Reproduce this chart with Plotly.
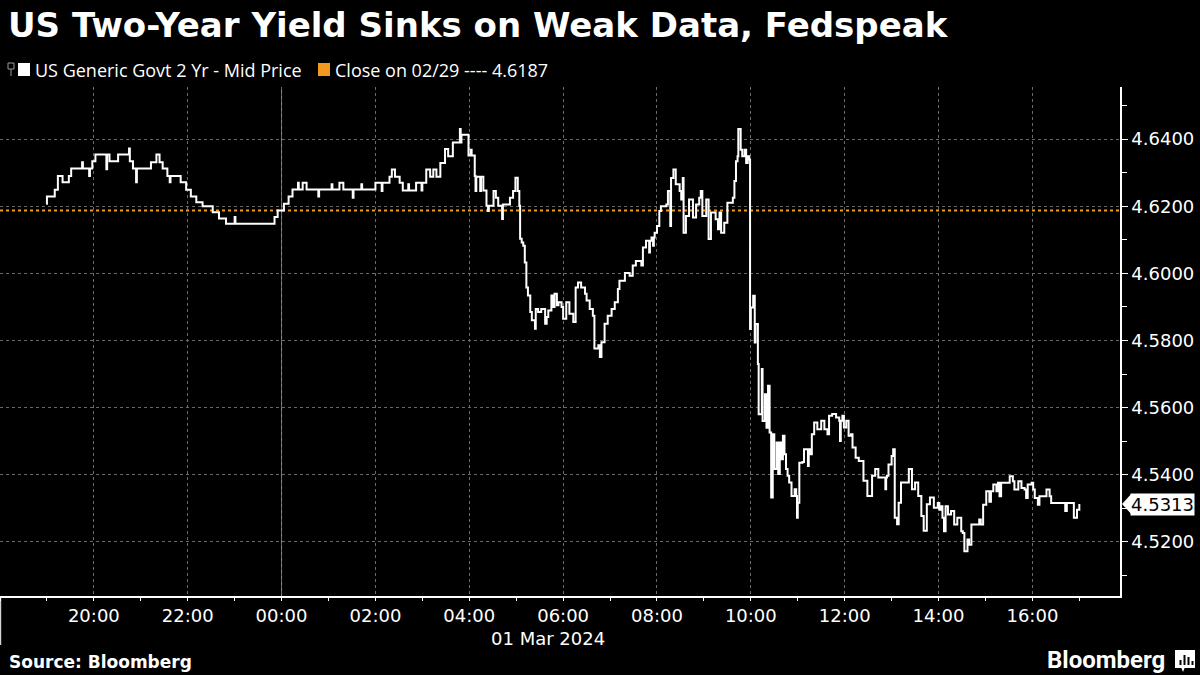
import plotly.graph_objects as go

TITLE = "US Two-Year Yield Sinks on Weak Data, Fedspeak"
SERIES_NAME = "US Generic Govt 2 Yr - Mid Price"
CLOSE_LABEL = "Close on 02/29 ---- 4.6187"
PREV_CLOSE = 4.6187
LAST_VALUE = 4.5313
DATE_LABEL = "01 Mar 2024"
SOURCE = "Source: Bloomberg"

times = [
    "18:59", "19:00", "19:10", "19:14", "19:20", "19:28", "19:31", "19:45", "19:46", "19:54",
    "19:55", "19:58", "20:02", "20:16", "20:17", "20:20", "20:31", "20:45", "20:46", "20:50",
    "20:54", "20:55", "21:13", "21:20", "21:24", "21:28", "21:34", "21:37", "21:38", "21:51",
    "21:58", "22:04", "22:11", "22:19", "22:32", "22:40", "22:49", "23:00", "23:01", "23:51",
    "23:55", "00:03", "00:09", "00:14", "00:21", "00:22", "00:27", "00:32", "00:47", "00:48",
    "01:04", "01:05", "01:14", "01:19", "01:31", "01:32", "01:42", "01:43", "02:00", "02:08",
    "02:09", "02:18", "02:21", "02:25", "02:31", "02:35", "02:42", "02:43", "02:52", "02:59",
    "03:00", "03:05", "03:10", "03:14", "03:18", "03:23", "03:29", "03:33", "03:39", "03:48",
    "03:49", "03:50", "03:59", "04:02", "04:03", "04:07", "04:08", "04:09", "04:14", "04:15",
    "04:18", "04:22", "04:24", "04:25", "04:31", "04:34", "04:37", "04:42", "04:43", "04:52",
    "04:56", "04:59", "05:02", "05:04", "05:05", "05:07", "05:09", "05:11", "05:13", "05:15",
    "05:18", "05:20", "05:24", "05:25", "05:28", "05:32", "05:37", "05:39", "05:41", "05:45",
    "05:47", "05:49", "05:52", "05:54", "05:58", "06:00", "06:04", "06:08", "06:13", "06:16",
    "06:19", "06:23", "06:28", "06:30", "06:34", "06:38", "06:40", "06:45", "06:47", "06:49",
    "06:53", "06:57", "07:02", "07:06", "07:10", "07:12", "07:19", "07:25", "07:29", "07:33",
    "07:40", "07:42", "07:46", "07:50", "07:51", "07:53", "07:55", "07:56", "07:57", "08:00",
    "08:03", "08:05", "08:12", "08:14", "08:17", "08:18", "08:21", "08:24", "08:29", "08:31",
    "08:33", "08:34", "08:37", "08:41", "08:46", "08:50", "08:54", "08:56", "08:58", "09:03",
    "09:06", "09:09", "09:15", "09:18", "09:20", "09:22", "09:26", "09:30", "09:37", "09:39",
    "09:41", "09:43", "09:44", "09:47", "09:49", "09:52", "09:54", "09:56", "09:58", "09:59",
    "10:00", "10:03", "10:05", "10:06", "10:09", "10:10", "10:14", "10:15", "10:18", "10:20",
    "10:22", "10:24", "10:26", "10:28", "10:30", "10:33", "10:35", "10:37", "10:39", "10:41",
    "10:43", "10:45", "10:47", "10:49", "10:52", "10:56", "10:58", "10:59", "11:00", "11:02",
    "11:06", "11:08", "11:13", "11:14", "11:16", "11:18", "11:21", "11:25", "11:30", "11:34",
    "11:38", "11:40", "11:44", "11:49", "11:53", "11:54", "11:55", "11:57", "11:59", "12:02",
    "12:05", "12:08", "12:10", "12:14", "12:18", "12:24", "12:29", "12:35", "12:39", "12:43",
    "12:52", "12:53", "12:54", "12:56", "13:00", "13:02", "13:04", "13:07", "13:09", "13:12",
    "13:22", "13:26", "13:30", "13:34", "13:38", "13:41", "13:45", "13:49", "13:54", "13:59",
    "14:01", "14:03", "14:05", "14:07", "14:09", "14:12", "14:16", "14:20", "14:24", "14:29",
    "14:31", "14:33", "14:37", "14:39", "14:42", "14:52", "14:54", "14:57", "15:01", "15:05",
    "15:07", "15:10", "15:14", "15:16", "15:18", "15:20", "15:31", "15:35", "15:37", "15:42",
    "15:46", "15:50", "15:52", "15:54", "15:59", "16:01", "16:03", "16:07", "16:09", "16:18",
    "16:22", "16:24", "16:42", "16:44", "16:53", "16:57", "17:00",
]

yields = [
    4.6207, 4.6229, 4.6249, 4.6290, 4.6271, 4.6290, 4.6312, 4.6331, 4.6312, 4.6290,
    4.6312, 4.6334, 4.6354, 4.6310, 4.6354, 4.6334, 4.6354, 4.6372, 4.6334, 4.6312,
    4.6271, 4.6312, 4.6331, 4.6354, 4.6331, 4.6312, 4.6290, 4.6271, 4.6290, 4.6271,
    4.6249, 4.6229, 4.6212, 4.6200, 4.6182, 4.6163, 4.6148, 4.6168, 4.6148, 4.6168,
    4.6187, 4.6207, 4.6229, 4.6250, 4.6270, 4.6250, 4.6270, 4.6250, 4.6229, 4.6250,
    4.6265, 4.6250, 4.6270, 4.6250, 4.6225, 4.6250, 4.6265, 4.6250, 4.6270, 4.6245,
    4.6270, 4.6288, 4.6309, 4.6288, 4.6270, 4.6247, 4.6265, 4.6247, 4.6270, 4.6247,
    4.6270, 4.6309, 4.6288, 4.6309, 4.6288, 4.6329, 4.6370, 4.6349, 4.6390, 4.6430,
    4.6390, 4.6413, 4.6351, 4.6368, 4.6351, 4.6290, 4.6245, 4.6288, 4.6245, 4.6288,
    4.6247, 4.6201, 4.6186, 4.6201, 4.6245, 4.6225, 4.6201, 4.6162, 4.6205, 4.6225,
    4.6245, 4.6285, 4.6245, 4.6201, 4.6103, 4.6092, 4.6082, 4.6032, 4.5958, 4.5934,
    4.5885, 4.5860, 4.5835, 4.5894, 4.5885, 4.5894, 4.5850, 4.5870, 4.5889, 4.5934,
    4.5900, 4.5939, 4.5905, 4.5914, 4.5900, 4.5865, 4.5914, 4.5880, 4.5855, 4.5958,
    4.5973, 4.5958, 4.5939, 4.5919, 4.5894, 4.5874, 4.5776, 4.5786, 4.5751, 4.5795,
    4.5850, 4.5874, 4.5894, 4.5914, 4.5953, 4.5978, 4.6001, 4.5993, 4.6023, 4.6037,
    4.6023, 4.6077, 4.6097, 4.6062, 4.6097, 4.6107, 4.6082, 4.6107, 4.6121, 4.6141,
    4.6186, 4.6200, 4.6205, 4.6245, 4.6141, 4.6284, 4.6309, 4.6265, 4.6245, 4.6220,
    4.6284, 4.6121, 4.6171, 4.6220, 4.6166, 4.6205, 4.6225, 4.6245, 4.6171, 4.6220,
    4.6102, 4.6181, 4.6161, 4.6131, 4.6181, 4.6121, 4.6151, 4.6210, 4.6225, 4.6275,
    4.6334, 4.6349, 4.6430, 4.6368, 4.6349, 4.6368, 4.6329, 4.6349, 4.6339, 4.5834,
    4.5898, 4.5933, 4.5794, 4.5849, 4.5730, 4.5580, 4.5715, 4.5560, 4.5640, 4.5540,
    4.5665, 4.5526, 4.5332, 4.5521, 4.5417, 4.5496, 4.5402, 4.5496, 4.5446, 4.5516,
    4.5461, 4.5417, 4.5397, 4.5377, 4.5337, 4.5357, 4.5337, 4.5272, 4.5317, 4.5436,
    4.5438, 4.5476, 4.5426, 4.5476, 4.5461, 4.5521, 4.5556, 4.5536, 4.5561, 4.5536,
    4.5521, 4.5576, 4.5581, 4.5571, 4.5561, 4.5501, 4.5561, 4.5576, 4.5541, 4.5561,
    4.5516, 4.5521, 4.5481, 4.5451, 4.5441, 4.5382, 4.5337, 4.5397, 4.5417, 4.5392,
    4.5357, 4.5392, 4.5397, 4.5431, 4.5456, 4.5476, 4.5272, 4.5253, 4.5317, 4.5377,
    4.5417, 4.5357, 4.5377, 4.5337, 4.5277, 4.5233, 4.5312, 4.5332, 4.5302, 4.5316,
    4.5296, 4.5306, 4.5272, 4.5232, 4.5306, 4.5282, 4.5292, 4.5252, 4.5272, 4.5232,
    4.5227, 4.5172, 4.5207, 4.5192, 4.5252, 4.5267, 4.5252, 4.5311, 4.5351, 4.5320,
    4.5351, 4.5371, 4.5351, 4.5376, 4.5336, 4.5376, 4.5396, 4.5381, 4.5356, 4.5381,
    4.5361, 4.5356, 4.5331, 4.5371, 4.5376, 4.5356, 4.5331, 4.5311, 4.5336, 4.5356,
    4.5336, 4.5316, 4.5292, 4.5316, 4.5272, 4.5296, 4.5313,
]

x_tick_values = ["2024-02-29 20:00", "2024-02-29 22:00", "2024-03-01 00:00", "2024-03-01 02:00",
                 "2024-03-01 04:00", "2024-03-01 06:00", "2024-03-01 08:00", "2024-03-01 10:00",
                 "2024-03-01 12:00", "2024-03-01 14:00", "2024-03-01 16:00"]
y_tick_values = [4.52, 4.54, 4.56, 4.58, 4.60, 4.62, 4.64]


def stamp(hm):
    day = "2024-02-29" if int(hm[:2]) >= 18 else "2024-03-01"
    return f"{day} {hm}"


x_vals = [stamp(t) for t in times]

# plot area geometry (pixels)
W, H = 1200, 675
L, R, T, B = 0, 80, 87, 79
PW, PH = W - L - R, H - T - B


def px(xp):
    return (xp - L) / PW


def py(yp):
    return (H - B - yp) / PH


AX_FONT = "DejaVu Sans"
WHITE = "#ffffff"
ORANGE = "#f39a1e"
GRID = "#6a6a6a"

fig = go.Figure()
fig.add_trace(go.Scatter(
    x=x_vals, y=yields, mode="lines", line=dict(color=WHITE, width=2, shape="hv"),
    name=SERIES_NAME, showlegend=False, hoverinfo="x+y",
))

shapes = [
    # previous close line
    dict(type="line", xref="paper", yref="y", x0=0, x1=1, y0=PREV_CLOSE, y1=PREV_CLOSE,
         line=dict(color=ORANGE, width=2, dash="dot"), layer="below"),
    # day separator
    dict(type="line", xref="x", yref="paper", x0="2024-03-01 00:00", x1="2024-03-01 00:00",
         y0=0, y1=1, line=dict(color="#8c8c8c", width=1), layer="below"),
    # left edge tick going into date row
    dict(type="line", xref="paper", yref="paper", x0=0.0006, x1=0.0006, y0=0, y1=py(645),
         line=dict(color=WHITE, width=1)),
    # legend squares
    dict(type="rect", xref="paper", yref="paper", x0=px(18), x1=px(30), y0=py(76), y1=py(63),
         fillcolor=WHITE, line=dict(width=0)),
    dict(type="rect", xref="paper", yref="paper", x0=px(318), x1=px(330), y0=py(76), y1=py(63),
         fillcolor=ORANGE, line=dict(width=0)),
    # tiny collapse icon
    dict(type="rect", xref="paper", yref="paper", x0=px(8), x1=px(14), y0=py(69), y1=py(63),
         fillcolor="rgba(0,0,0,0)", line=dict(color="#9a9a9a", width=1)),
    dict(type="line", xref="paper", yref="paper", x0=px(11), x1=px(11), y0=py(76), y1=py(69),
         line=dict(color="#9a9a9a", width=1)),
    # last value pointer
    dict(type="path", xref="paper", yref="y",
         path=f"M {px(1122)} {LAST_VALUE} L {px(1131)} {LAST_VALUE + 0.0029} "
              f"L {px(1131)} {LAST_VALUE - 0.0029} Z",
         fillcolor=WHITE, line=dict(width=0)),
    # bloomberg icon
    dict(type="rect", xref="paper", yref="paper", x0=px(1175), x1=px(1195), y0=py(668), y1=py(650),
         fillcolor=WHITE, line=dict(width=0)),
    dict(type="path", xref="paper", yref="paper",
         path=f"M {px(1181)} {py(667)} L {px(1185)} {py(667)} L {px(1183)} {py(672)} Z",
         fillcolor=WHITE, line=dict(width=0)),
]
for bx, top in [(1179.5, 660), (1183.5, 655), (1187.5, 657), (1191.5, 661)]:
    shapes.append(dict(type="rect", xref="paper", yref="paper", x0=px(bx), x1=px(bx + 2),
                       y0=py(665), y1=py(top), fillcolor="#000000", line=dict(width=0)))

annotations = [
    dict(text=f"<b>{TITLE}</b>", xref="paper", yref="paper", x=px(6), y=py(25),
         xanchor="left", yanchor="middle", showarrow=False,
         font=dict(family="DejaVu Sans", size=34, color=WHITE)),
    dict(text=SERIES_NAME, xref="paper", yref="paper", x=px(33), y=py(70),
         xanchor="left", yanchor="middle", showarrow=False,
         font=dict(family="Open Sans", size=18, color=WHITE)),
    dict(text=CLOSE_LABEL, xref="paper", yref="paper", x=px(333), y=py(70),
         xanchor="left", yanchor="middle", showarrow=False,
         font=dict(family="Open Sans", size=18, color=WHITE)),
    dict(text=DATE_LABEL, xref="paper", yref="paper", x=px(548), y=py(638),
         xanchor="center", yanchor="middle", showarrow=False,
         font=dict(family=AX_FONT, size=18, color=WHITE)),
    dict(text=f"<b>{SOURCE}</b>", xref="paper", yref="paper", x=px(7), y=py(662),
         xanchor="left", yanchor="middle", showarrow=False,
         font=dict(family="DejaVu Sans", size=17, color=WHITE)),
    dict(text="<b>Bloomberg</b>", xref="paper", yref="paper", x=px(1167), y=py(660),
         xanchor="right", yanchor="middle", showarrow=False,
         font=dict(family="Roboto", size=24, color=WHITE)),
    dict(text=f"{LAST_VALUE:.4f}", xref="paper", yref="y", x=px(1130), y=LAST_VALUE,
         xanchor="left", yanchor="middle", showarrow=False, bgcolor=WHITE, borderpad=0,
         font=dict(family=AX_FONT, size=18, color="#000000")),
]

fig.update_layout(
    width=W, height=H, margin=dict(l=L, r=R, t=T, b=B, pad=0),
    paper_bgcolor="#000000", plot_bgcolor="#000000",
    showlegend=False, shapes=shapes, annotations=annotations,
    font=dict(family=AX_FONT, color=WHITE),
    xaxis=dict(
        type="date", range=["2024-02-29 18:00", "2024-03-01 17:52"],
        tickvals=x_tick_values, tickformat="%H:%M",
        ticks="outside", ticklen=3, tickcolor=WHITE, tickwidth=1,
        minor=dict(dtick=3600000, tick0="2024-02-29 18:00", ticks="outside", ticklen=3,
                   tickcolor=WHITE, showgrid=False),
        showgrid=True, gridcolor=GRID, griddash="dot", gridwidth=1,
        showline=True, linecolor=WHITE, linewidth=1.5, zeroline=False,
        tickfont=dict(family=AX_FONT, size=18, color=WHITE),
        fixedrange=True,
    ),
    yaxis=dict(
        side="right", range=[4.5039, 4.6555], tickvals=y_tick_values, tickformat=".4f",
        ticks="outside", ticklen=6, tickcolor=WHITE, tickwidth=1,
        minor=dict(dtick=0.01, tick0=4.50, ticks="outside", ticklen=5, tickcolor=WHITE,
                   showgrid=False),
        showgrid=True, gridcolor=GRID, griddash="dot", gridwidth=1,
        showline=True, linecolor=WHITE, linewidth=1.5, zeroline=False,
        tickfont=dict(family=AX_FONT, size=18, color=WHITE),
        fixedrange=True,
    ),
)

fig.write_html("out.html", config={"displayModeBar": False},
               post_script="document.body.style.margin='0';document.body.style.overflow='hidden';")
